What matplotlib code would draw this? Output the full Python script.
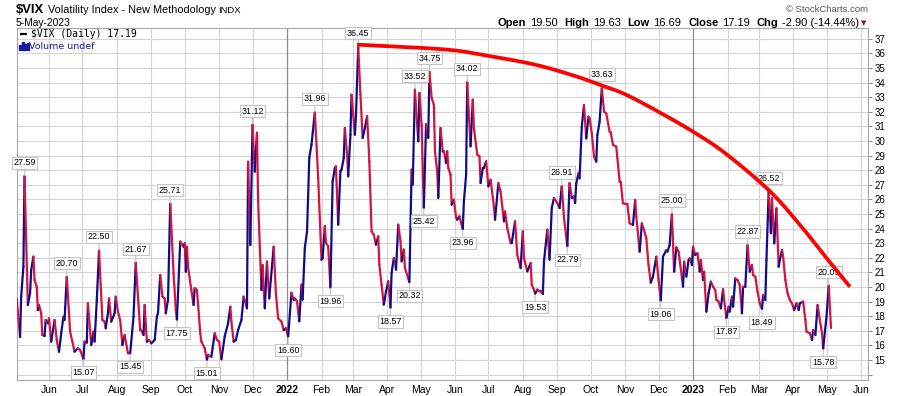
import matplotlib
matplotlib.use('Agg')
import matplotlib.pyplot as plt
import matplotlib.dates as mdates
from matplotlib.collections import LineCollection
import numpy as np
import pandas as pd

# ---------------- data (day offsets from START, VIX closes) ----------------
START = '2021-05-01'

days_2021a = [2,5,6,8,9,12,14,15,17,18,20,21,22,24,25,27,28,30,31,33,36,38,40,42,44,45,47,50,52,54,
              57,59,62,63,65,66,69,71,72,74,76,79,81,82,84,85,87,90,91,93,95,97,99,102,104,107,109,113,114,116,
              117,119,121,123,126]
vix_2021a = [19.22,16.58,19.34,21.39,27.59,18.77,19.57,21.16,22.08,20.48,20.02,18.42,18.77,18.20,16.71,
             16.64,17.74,17.51,17.85,16.26,17.74,16.37,15.57,16.83,17.97,17.74,20.70,16.94,16.26,15.57,
             15.80,15.68,15.07,16.26,16.19,18.88,16.03,16.94,16.26,19.11,22.50,17.74,17.63,17.17,18.20,
             19.22,17.63,18.20,19.34,18.31,17.74,16.03,16.71,15.46,15.45,17.97,21.67,17.05,17.05,16.71,
             18.77,16.26,16.37,16.14,16.37]

days_2021b = [128,129,131,133,135,136,138,140,143,145,146,149,150,152,153,154,155,156,159,161,
              162,164,165,167,168,171,173,174,177,180,182,184,186,189,192,194,195,197,199,201,
              204,206,207,209,210,212,214,216,218,219,222,223,225,227,229,233,235,237,240,242,
              244,246,249,251,252]
vix_2021b = [17.97,18.20,20.82,19.34,19.22,18.20,19.11,25.71,20.94,18.42,
             17.75,23.11,22.99,22.76,22.99,21.05,22.76,21.39,19.79,18.77,
             19.91,19.79,18.88,16.83,16.26,15.80,15.01,15.34,15.23,16.83,
             16.37,16.26,15.05,16.62,17.51,18.65,17.63,16.26,16.37,17.05,
             17.74,19.34,19.11,18.54,28.58,22.88,31.12,27.90,30.57,25.96,
             19.79,21.51,18.54,21.74,19.22,22.76,19.57,17.85,17.63,17.05,
             17.17,16.60,19.61,19.11,19.22]

days_2022a = [254,256,258,259,261,263,265,267,270,273,276,277,279,280,282,284,286,288,289,291,
              293,294,296,297,299,300,302,303,306,307,309,311,313,315,317,319,321,323,325,327,
              328,330,332,334,336,338,339,341,342,343,345,347,348,350,351,355,357,358,360,361,
              363,364,366,368,370,372,373,375,377,378,380,381]
vix_2022a = [19.02,17.65,20.16,19.13,22.67,23.81,28.84,29.75,31.96,27.47,
             21.87,21.99,24.16,23.01,22.80,19.96,27.24,28.15,28.26,24.27,
             27.92,28.04,28.84,30.89,29.06,27.58,30.43,33.17,30.43,31.80,
             36.45,33.17,30.21,30.89,31.69,28.61,23.81,23.58,22.90,23.47,
             21.53,20.16,18.79,19.70,20.39,18.57,20.96,21.99,21.76,21.19,
             24.27,23.13,21.76,22.56,21.30,20.32,28.04,27.01,33.52,32.26,
             29.98,33.29,31.10,25.42,31.15,30.21,34.75,32.95,32.49,29.29,
             27.92,26.10]

days_2022b = [383,385,386,388,389,390,392,393,395,397,398,400,403,404,406,407,410,412,413,416,
              418,419,421,422,424,426,428,431,432,435,437,440,441,443,446,447,450,452,455,457,
              458,461,464,465,467,468,470,472,473,475,476,479,481,483,485,488,490,492,494,497,
              499,501,503,504]
vix_2022b = [30.89,29.29,29.30,28.49,29.29,28.15,27.69,25.64,25.98,24.73,
             24.61,24.84,23.96,25.87,27.69,34.02,29.63,32.83,30.89,29.06,
             28.95,27.12,28.15,28.16,28.61,26.89,27.35,25.53,24.61,27.12,
             26.55,24.50,25.18,24.04,23.01,23.00,24.50,22.21,21.30,23.81,
             21.99,21.07,21.64,20.16,19.82,19.53,19.82,19.70,19.70,19.52,
             21.76,23.93,21.87,25.41,26.10,25.75,25.41,26.91,24.73,22.79,
             27.12,26.10,26.21,25.75]

days_2022c = [505,507,508,510,512,514,516,517,519,521,523,524,526,528,530,532,535,536,538,541,
              542,544,545,547,549,551,553,556,558,559,562,564,566,568,570,572,574,577,579,581,
              583,586,587,589,591,593,595,597,598,601,602,604,606,607,609,610,612,614,616,617,
              619,620,622,624,626,628,630,631,633,635,637,638]
vix_2022c = [27.10,27.79,27.44,30.98,32.47,30.18,31.67,31.55,30.53,28.93,
             28.58,30.41,31.32,33.63,32.01,31.89,30.64,30.60,29.73,29.61,
             28.81,27.21,27.20,25.73,25.70,25.68,24.36,24.25,25.96,24.82,
             22.42,24.36,23.90,23.33,21.51,20.30,20.71,22.08,20.48,19.06,
             22.08,22.53,22.42,22.88,25.00,21.05,22.72,22.42,21.85,20.02,
             21.74,20.71,21.85,21.96,21.51,22.76,22.19,22.31,21.05,21.85,
             20.48,21.05,18.31,19.57,20.37,20.02,19.79,19.11,19.00,18.54,
             19.85,19.11]

days_2023 = [640,642,643,645,646,648,650,652,654,655,657,659,661,663,664,666,668,670,672,673,
             675,676,678,680,681,683,685,687,688,690,691,693,695,697,699,701,703,705,706,709,
             711,712,715,717,718,720,722,724,726,727,730,732,734]
vix_2023 = [17.87,18.65,18.31,19.34,18.65,20.59,20.48,20.14,18.20,20.02,
            20.01,22.87,21.05,21.51,20.82,20.71,19.68,18.88,18.49,19.45,
            19.11,21.85,26.52,23.68,26.07,22.99,25.39,21.39,21.85,22.53,
            22.08,20.48,19.57,19.11,18.88,18.42,18.88,18.42,18.88,19.00,
            17.74,16.94,16.83,16.37,17.05,16.71,18.77,17.74,16.83,15.78,
            17.97,20.09,17.19]

# labelled highs / lows (day offsets)
high_label_days = [9, 47, 76, 109, 140, 214, 270, 309, 360, 373, 407, 492, 528, 591, 659, 678, 732]
low_label_days = [62, 104, 146, 173, 246, 284, 338, 355, 368, 403, 468, 497, 581, 640, 672, 727]

# hand-drawn trend arc (day offsets, values)
trend_days = [308, 387, 423, 468, 504, 528, 549, 579, 610, 639, 678, 705, 729, 751]
trend_vals = [36.60, 36.27, 35.87, 35.23, 34.45, 33.80, 33.20, 32.00, 30.64, 29.16, 26.64, 24.36, 22.08, 20.02]

y_ticks = list(range(14, 38))
header_values = [('Open', '19.50'), ('High', '19.63'), ('Low', '16.69'), ('Close', '17.19'), ('Chg', '-2.90 (-14.44%)')]
last_close = 17.19

# ---------------- assemble ----------------
day_groups = [days_2021a, days_2021b, days_2022a, days_2022b, days_2022c, days_2023]
vix_groups = [vix_2021a, vix_2021b, vix_2022a, vix_2022b, vix_2022c, vix_2023]
for dg, vg in zip(day_groups, vix_groups):
    assert len(dg) == len(vg), (len(dg), len(vg), dg[0])
days = np.concatenate([np.asarray(d, float) for d in day_groups])
vix = np.concatenate([np.asarray(v, float) for v in vix_groups])

base = mdates.date2num(pd.Timestamp(START).to_pydatetime())
x = base + days

W, H = 900, 396
fig = plt.figure(figsize=(W / 100, H / 100), dpi=100)
fig.patch.set_facecolor('white')
L, R, T, B = 17, 868, 28, 380
ax = fig.add_axes([L / W, 1 - B / H, (R - L) / W, (B - T) / H])
ax.set_facecolor('white')

ax.set_xlim(base + 2.25, base + 767.3)
ax.set_ylim(13.63, 37.74)

# grid
for yv in y_ticks:
    ax.axhline(yv, color='#d4d4d4', lw=0.8, zorder=0)
months = pd.date_range('2021-06-01', '2023-06-01', freq='MS')
mx = mdates.date2num(months.to_pydatetime())
for m, xv in zip(months, mx):
    if m.month == 1:
        ax.axvline(xv, color='#8c8c8c', lw=0.9, zorder=0.5)
    else:
        ax.axvline(xv, color='#d4d4d4', lw=0.8, zorder=0)

# price line coloured by direction
pts = np.column_stack([x, vix])
segs = np.stack([pts[:-1], pts[1:]], axis=1)
cols = np.where(np.diff(vix) > 0, '#0d0d8c', '#d6123e')
lc = LineCollection(segs, colors=cols, linewidths=1.6, capstyle='round', joinstyle='round', zorder=3)
ax.add_collection(lc)


# trend arc: smooth Catmull-Rom path through the hand-read points (drawing only)
def catmull_rom(px, py, n=20):
    px = np.asarray(px, float)
    py = np.asarray(py, float)
    P = np.column_stack([px, py])
    P = np.vstack([2 * P[0] - P[1], P, 2 * P[-1] - P[-2]])
    out = []
    t = np.linspace(0, 1, n, endpoint=False)[:, None]
    for i in range(1, len(P) - 2):
        p0, p1, p2, p3 = P[i - 1], P[i], P[i + 1], P[i + 2]
        c = 0.5 * ((2 * p1) + (-p0 + p2) * t + (2 * p0 - 5 * p1 + 4 * p2 - p3) * t ** 2
                   + (-p0 + 3 * p1 - 3 * p2 + p3) * t ** 3)
        out.append(c)
    out.append(P[-2][None, :])
    return np.vstack(out)


arc = catmull_rom(base + np.asarray(trend_days, float), trend_vals)
ax.plot(arc[:, 0], arc[:, 1], color='#ff0000', lw=2.7,
        solid_capstyle='butt', solid_joinstyle='round', zorder=6)

# labels
idx_of = {int(d): i for i, d in enumerate(days)}
box = dict(boxstyle='square,pad=0.18', fc='white', ec='#c4c4c4', lw=0.8)
for d in high_label_days:
    i = idx_of[d]
    ax.annotate(f'{vix[i]:.2f}', xy=(x[i], vix[i]), xytext=(0, 6.5), textcoords='offset points',
                ha='center', va='bottom', fontsize=6.4, family='Liberation Sans', bbox=box,
                arrowprops=dict(arrowstyle='-', color='#c4c4c4', lw=0.8, shrinkA=0, shrinkB=0.5),
                zorder=5)
for d in low_label_days:
    i = idx_of[d]
    ax.annotate(f'{vix[i]:.2f}', xy=(x[i], vix[i]), xytext=(0, -6.5), textcoords='offset points',
                ha='center', va='top', fontsize=6.4, family='Liberation Sans', bbox=box,
                arrowprops=dict(arrowstyle='-', color='#c4c4c4', lw=0.8, shrinkA=0, shrinkB=0.5),
                zorder=5)

# axes cosmetics
for s in ax.spines.values():
    s.set_color('#a8a8a8')
    s.set_linewidth(0.8)
ax.yaxis.tick_right()
ax.set_yticks(y_ticks)
ax.set_yticklabels(['' if v == 14 else str(v) for v in y_ticks])
ax.tick_params(axis='y', labelsize=7, length=3, width=0.7, color='#888888', pad=1.5)
for t in ax.get_yticklabels():
    t.set_family('Liberation Sans')
ax.set_xticks(mx)
ax.set_xticklabels([str(m.year) if m.month == 1 else m.strftime('%b') for m in months])
ax.tick_params(axis='x', labelsize=7.5, length=0, pad=3.5)
for m, t in zip(months, ax.get_xticklabels()):
    t.set_family('Liberation Sans')
    if m.month == 1:
        t.set_fontweight('bold')

# legend inside plot
ax.plot([0.004, 0.012], [0.982, 0.982], transform=ax.transAxes, color='black', lw=1.6, zorder=7,
        solid_capstyle='butt')
ax.text(0.017, 0.982, f'$VIX (Daily) {last_close:.2f}', transform=ax.transAxes, fontsize=7,
        family='DejaVu Sans Mono', va='center', ha='left', zorder=7)
bar_x = [0.0025, 0.0055, 0.0085, 0.0115]
bar_h = [0.014, 0.024, 0.018, 0.020]
for bx, bh in zip(bar_x, bar_h):
    ax.add_patch(plt.Rectangle((bx, 0.937), 0.0022, bh, transform=ax.transAxes, color='#1a1aa0', zorder=7))
ax.text(0.0145, 0.947, 'Volume undef', transform=ax.transAxes, fontsize=6.8, family='DejaVu Sans',
        color='#1a1aa0', va='center', ha='left', zorder=7)

# header
def fx(px):
    return px / W

def fy(py):
    return 1 - py / H

fig.text(fx(16), fy(13), '$VIX', fontsize=9.4, fontweight='bold', family='Liberation Sans', va='baseline')
fig.text(fx(48), fy(13), 'Volatility Index - New Methodology', fontsize=7.8, family='Liberation Sans', va='baseline')
fig.text(fx(218), fy(13), 'INDX', fontsize=6.8, family='Liberation Sans', va='baseline')
fig.text(fx(16), fy(26.5), '5-May-2023', fontsize=7.4, family='Liberation Sans', va='baseline')
fig.text(fx(868), fy(12), '\u00a9 StockCharts.com', fontsize=6.8, family='Liberation Sans', color='#555555',
         va='baseline', ha='right')

renderer = fig.canvas.get_renderer()
pieces = []
for lab, val in header_values:
    pieces.append((lab, 'bold', 3.5))
    pieces.append((val, 'normal', 7))
tmp = []
total = 0
for s, w, gap in pieces:
    t = fig.text(0, 0, s, fontsize=8, fontweight=w, family='Liberation Sans')
    wpx = t.get_window_extent(renderer=renderer).width
    t.remove()
    tmp.append(wpx)
    total += wpx + gap
total -= pieces[-1][2]
xcur = 859 - total
for (s, w, gap), wpx in zip(pieces, tmp):
    fig.text(fx(xcur), fy(26), s, fontsize=8, fontweight=w, family='Liberation Sans', va='baseline', ha='left')
    xcur += wpx + gap
fig.text(fx(864), fy(23), '\u25bc', fontsize=5, color='#9a1030', family='DejaVu Sans', va='center', ha='center')

fig.savefig('out.png', dpi=100, facecolor='white')
